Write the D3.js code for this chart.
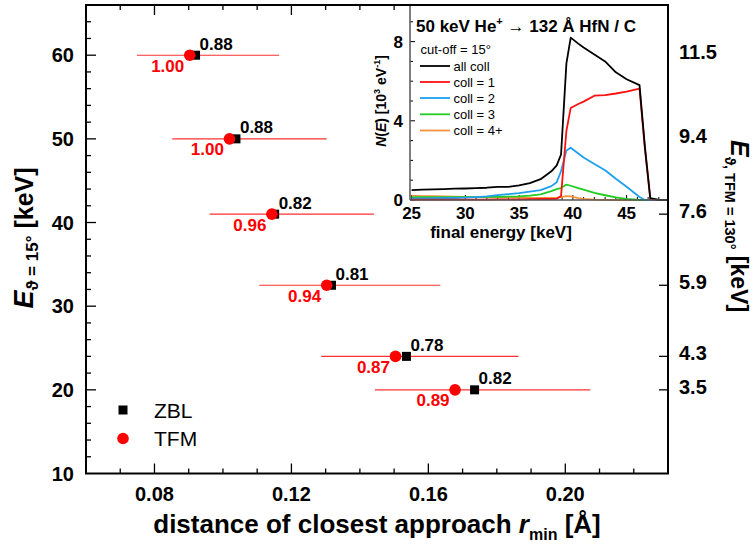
<!DOCTYPE html>
<html><head><meta charset="utf-8">
<script src="https://cdn.jsdelivr.net/npm/d3@7"></script>
<style>body{margin:0;background:#fff}svg{display:block}text{font-family:Arial,"Liberation Sans",sans-serif}</style>
</head><body>
<svg id="c" width="755" height="555"></svg>
<script>
// ---- main plot data ----
const energy15 = [60, 50, 41, 32.5, 24, 20];
const energy130Labels = ["11.5", "9.4", "7.6", "5.9", "4.3", "3.5"];
const rZBL = [0.0920, 0.1038, 0.1151, 0.1317, 0.1536, 0.1735];
const rTFM = [0.0903, 0.1019, 0.1143, 0.1303, 0.1504, 0.1678];
const rErrLow = [0.0749, 0.0852, 0.0961, 0.1106, 0.1287, 0.1444];
const rErrHigh = [0.1164, 0.1303, 0.1441, 0.1635, 0.1863, 0.2073];
const ratioZBL = ["0.88", "0.88", "0.82", "0.81", "0.78", "0.82"];
const ratioTFM = ["1.00", "1.00", "0.96", "0.94", "0.87", "0.89"];
const xTicks = [0.08, 0.12, 0.16, 0.20];
const yTicks = [10, 20, 30, 40, 50, 60];

// ---- inset data ----
const finalEnergy = [25,26,27,28,29,30,31,32,33,34,35,36,37,38,38.5,38.9,39.4,39.8,40.5,41,42,43,44,45,46.2,46.7,47.2,48,48.85];
const allColl = [0.50,0.52,0.54,0.55,0.57,0.58,0.60,0.62,0.66,0.66,0.74,0.85,1.05,1.45,1.75,2.3,6.9,8.2,7.9,7.7,7.35,7.0,6.45,6.1,5.8,2.7,0.1,0,0];
const coll1 = [0.02,0.02,0.02,0.02,0.02,0.02,0.02,0.02,0.03,0.03,0.03,0.04,0.05,0.05,0.06,0.2,3.5,4.65,4.85,4.97,5.27,5.3,5.38,5.48,5.63,2.6,0.05,0,0];
const coll2 = [0.08,0.08,0.09,0.10,0.10,0.12,0.15,0.18,0.25,0.30,0.35,0.42,0.50,0.70,0.90,1.45,2.5,2.64,2.35,2.15,1.82,1.5,1.07,0.67,0.15,0,0,0,0];
const coll3 = [0.15,0.15,0.15,0.15,0.15,0.15,0.15,0.16,0.16,0.17,0.18,0.22,0.28,0.45,0.55,0.6,0.78,0.72,0.6,0.52,0.36,0.24,0.13,0.05,0,0,0,0,0];
const coll4p = [0.22,0.20,0.20,0.18,0.17,0.16,0.15,0.14,0.14,0.13,0.12,0.11,0.10,0.10,0.12,0.15,0.20,0.18,0.10,0.06,0.02,0.01,0,0,0,0,0,0,0];
const insetSeries = ["all coll", "coll = 1", "coll = 2", "coll = 3", "coll = 4+"];
const insetColors = ["#000000", "#ff1010", "#1ea0f0", "#22cc22", "#f7923a"];
const insetValues = [allColl, coll1, coll2, coll3, coll4p];
const insetXTicks = [25, 30, 35, 40, 45];
const insetYTicks = [0, 4, 8];

const svg = d3.select("#c");
const L = 86, R = 668, T = 5, B = 473.5;
const x = d3.scaleLinear().domain([0.06, 0.23]).range([L, R]);
const y = d3.scaleLinear().domain([10, 66]).range([B, T]);

// ticks (inward)
const g = svg.append("g").attr("stroke", "#000").attr("stroke-width", 1.3);
const xMinor = d3.range(0.07, 0.2251, 0.01);
xMinor.forEach(v => {
  const major = xTicks.some(t => Math.abs(t - v) < 1e-6);
  const len = major ? 10 : 5;
  g.append("line").attr("x1", x(v)).attr("x2", x(v)).attr("y1", B).attr("y2", B - len);
  g.append("line").attr("x1", x(v)).attr("x2", x(v)).attr("y1", T).attr("y2", T + len);
});
d3.range(12, 65, 2).forEach(v => {
  const major = yTicks.includes(v);
  g.append("line").attr("x1", L).attr("x2", L + (major ? 10 : 5)).attr("y1", y(v)).attr("y2", y(v));
});
energy15.forEach(v => {
  g.append("line").attr("x1", R).attr("x2", R - 9).attr("y1", y(v)).attr("y2", y(v));
});

// tick labels
svg.append("g").selectAll("text").data(xTicks).join("text")
  .attr("x", d => x(d)).attr("y", 501).attr("text-anchor", "middle")
  .attr("font-size", 20).attr("font-weight", "bold").text(d => d.toFixed(2));
svg.append("g").selectAll("text").data(yTicks).join("text")
  .attr("x", 74).attr("y", d => y(d) + 7).attr("text-anchor", "end")
  .attr("font-size", 20).attr("font-weight", "bold").text(d => d);
svg.append("g").selectAll("text").data(energy15).join("text")
  .attr("x", 679).attr("y", d => y(d) + 4).attr("text-anchor", "start")
  .attr("font-size", 20).attr("font-weight", "bold").text((d, i) => energy130Labels[i]);

// axis titles
const xl = svg.append("text").attr("x", 377).attr("y", 533).attr("text-anchor", "middle")
  .attr("font-size", 26).attr("font-weight", "bold");
xl.append("tspan").text("distance of closest approach ");
xl.append("tspan").attr("font-style", "italic").text("r");
xl.append("tspan").attr("font-size", 16).attr("dy", 7).text("min");
xl.append("tspan").attr("dy", -7).text(" [Å]");

const yl = svg.append("text").attr("transform", "translate(33,238) rotate(-90)")
  .attr("text-anchor", "middle").attr("font-weight", "bold");
yl.append("tspan").attr("font-size", 27).attr("font-style", "italic").text("E");
yl.append("tspan").attr("font-size", 17).attr("dy", 5).text("ϑ = 15°");
yl.append("tspan").attr("font-size", 25).attr("dy", -5).text(" [keV]");

const yr = svg.append("text").attr("transform", "translate(731,226) rotate(90)")
  .attr("text-anchor", "middle").attr("font-weight", "bold");
yr.append("tspan").attr("font-size", 25).attr("font-style", "italic").text("E");
yr.append("tspan").attr("font-size", 14.5).attr("dy", 6).text("ϑ, TFM = 130°");
yr.append("tspan").attr("font-size", 23).attr("dy", -6).text(" [keV]");

// error bars
svg.append("g").selectAll("line").data(energy15).join("line")
  .attr("x1", (d, i) => x(rErrLow[i])).attr("x2", (d, i) => x(rErrHigh[i]))
  .attr("y1", d => y(d)).attr("y2", d => y(d))
  .attr("stroke", "#ff3030").attr("stroke-width", 1.1);

// ZBL squares, then TFM circles
svg.append("g").selectAll("rect").data(energy15).join("rect")
  .attr("x", (d, i) => x(rZBL[i]) - 4.5).attr("y", d => y(d) - 4.5)
  .attr("width", 9).attr("height", 9).attr("fill", "#000");
svg.append("g").selectAll("circle").data(energy15).join("circle")
  .attr("cx", (d, i) => x(rTFM[i])).attr("cy", d => y(d)).attr("r", 5.8).attr("fill", "#ff0000");

// ratio labels
svg.append("g").selectAll("text").data(energy15).join("text")
  .attr("x", (d, i) => x(rZBL[i]) + 4).attr("y", d => y(d) - 5.5)
  .attr("font-size", 17).attr("font-weight", "bold").attr("fill", "#000").text((d, i) => ratioZBL[i]);
svg.append("g").selectAll("text").data(energy15).join("text")
  .attr("x", (d, i) => x(rTFM[i]) - 5.5).attr("y", d => y(d) + 16.5).attr("text-anchor", "end")
  .attr("font-size", 17).attr("font-weight", "bold").attr("fill", "#ff0000").text((d, i) => ratioTFM[i]);

// legend
svg.append("rect").attr("x", 123 - 4.5).attr("y", 410 - 4.5).attr("width", 9).attr("height", 9).attr("fill", "#000");
svg.append("circle").attr("cx", 123).attr("cy", 438.5).attr("r", 5.8).attr("fill", "#ff0000");
svg.append("text").attr("x", 154).attr("y", 417.5).attr("font-size", 21).text("ZBL");
svg.append("text").attr("x", 154).attr("y", 446).attr("font-size", 21).text("TFM");

// ---- inset ----
const IL = 410, IR = 668, IT = 5, IB = 200;
const ix = d3.scaleLinear().domain([24.85, 48.85]).range([IL, IR]);
const iy = d3.scaleLinear().domain([0, 9.85]).range([IB, IT]);
svg.append("rect").attr("x", IL).attr("y", IT).attr("width", IR - IL).attr("height", IB - IT).attr("fill", "#fff");

const ig = svg.append("g").attr("stroke", "#000").attr("stroke-width", 1);
d3.range(25, 49, 1).forEach(v => {
  const len = insetXTicks.includes(v) ? 5 : 3;
  ig.append("line").attr("x1", ix(v)).attr("x2", ix(v)).attr("y1", IB).attr("y2", IB - len);
});
d3.range(0, 10, 1).forEach(v => {
  const len = insetYTicks.includes(v) ? 5 : 3;
  ig.append("line").attr("x1", IL).attr("x2", IL + len).attr("y1", iy(v)).attr("y2", iy(v));
});

const line = d3.line().x((d, i) => ix(finalEnergy[i])).y(d => iy(d));
for (let k = insetValues.length - 1; k >= 0; k--) {
  svg.append("path").datum(insetValues[k]).attr("d", line)
    .attr("fill", "none").attr("stroke", insetColors[k]).attr("stroke-width", 1.8)
    .attr("stroke-linejoin", "round");
}

// inset frame (left & bottom)
svg.append("line").attr("x1", IL).attr("x2", IL).attr("y1", IT).attr("y2", IB).attr("stroke", "#555").attr("stroke-width", 1.5);
svg.append("line").attr("x1", IL).attr("x2", IR).attr("y1", IB).attr("y2", IB).attr("stroke", "#555").attr("stroke-width", 1.5);

svg.append("g").selectAll("text").data(insetXTicks).join("text")
  .attr("x", d => ix(d)).attr("y", 219).attr("text-anchor", "middle")
  .attr("font-size", 17).attr("font-weight", "bold").text(d => d);
svg.append("g").selectAll("text").data(insetYTicks).join("text")
  .attr("x", 403).attr("y", d => iy(d) + 6).attr("text-anchor", "end")
  .attr("font-size", 17).attr("font-weight", "bold").text(d => d);

svg.append("text").attr("x", 501).attr("y", 238).attr("text-anchor", "middle")
  .attr("font-size", 17).attr("font-weight", "bold").text("final energy [keV]");

const iyl = svg.append("text").attr("transform", "translate(386,101) rotate(-90)")
  .attr("text-anchor", "middle").attr("font-weight", "bold").attr("font-size", 14);
iyl.append("tspan").attr("font-style", "italic").text("N");
iyl.append("tspan").text("(");
iyl.append("tspan").attr("font-style", "italic").text("E");
iyl.append("tspan").text(") [10");
iyl.append("tspan").attr("font-size", 9).attr("dy", -6).text("3");
iyl.append("tspan").attr("dy", 6).text(" eV");
iyl.append("tspan").attr("font-size", 9).attr("dy", -6).text("-1");
iyl.append("tspan").attr("dy", 6).text("]");

const tt = svg.append("text").attr("x", 416).attr("y", 31.5).attr("font-size", 17).attr("font-weight", "bold");
tt.append("tspan").text("50 keV He");
tt.append("tspan").attr("font-size", 11).attr("dy", -7).text("+");
tt.append("tspan").attr("dy", 7).text(" → 132 Å HfN / C");

svg.append("text").attr("x", 420.5).attr("y", 53.5).attr("font-size", 13).text("cut-off = 15°");
const legY = [66, 82, 98, 114.3, 130.5];
insetSeries.forEach((s, k) => {
  svg.append("line").attr("x1", 420).attr("x2", 450).attr("y1", legY[k]).attr("y2", legY[k])
    .attr("stroke", insetColors[k]).attr("stroke-width", 1.8);
  svg.append("text").attr("x", 453.5).attr("y", legY[k] + 4.5).attr("font-size", 13).text(s);
});

// main frame
svg.append("rect").attr("x", L).attr("y", T).attr("width", R - L).attr("height", B - T)
  .attr("fill", "none").attr("stroke", "#000").attr("stroke-width", 2);
</script>
</body></html>
